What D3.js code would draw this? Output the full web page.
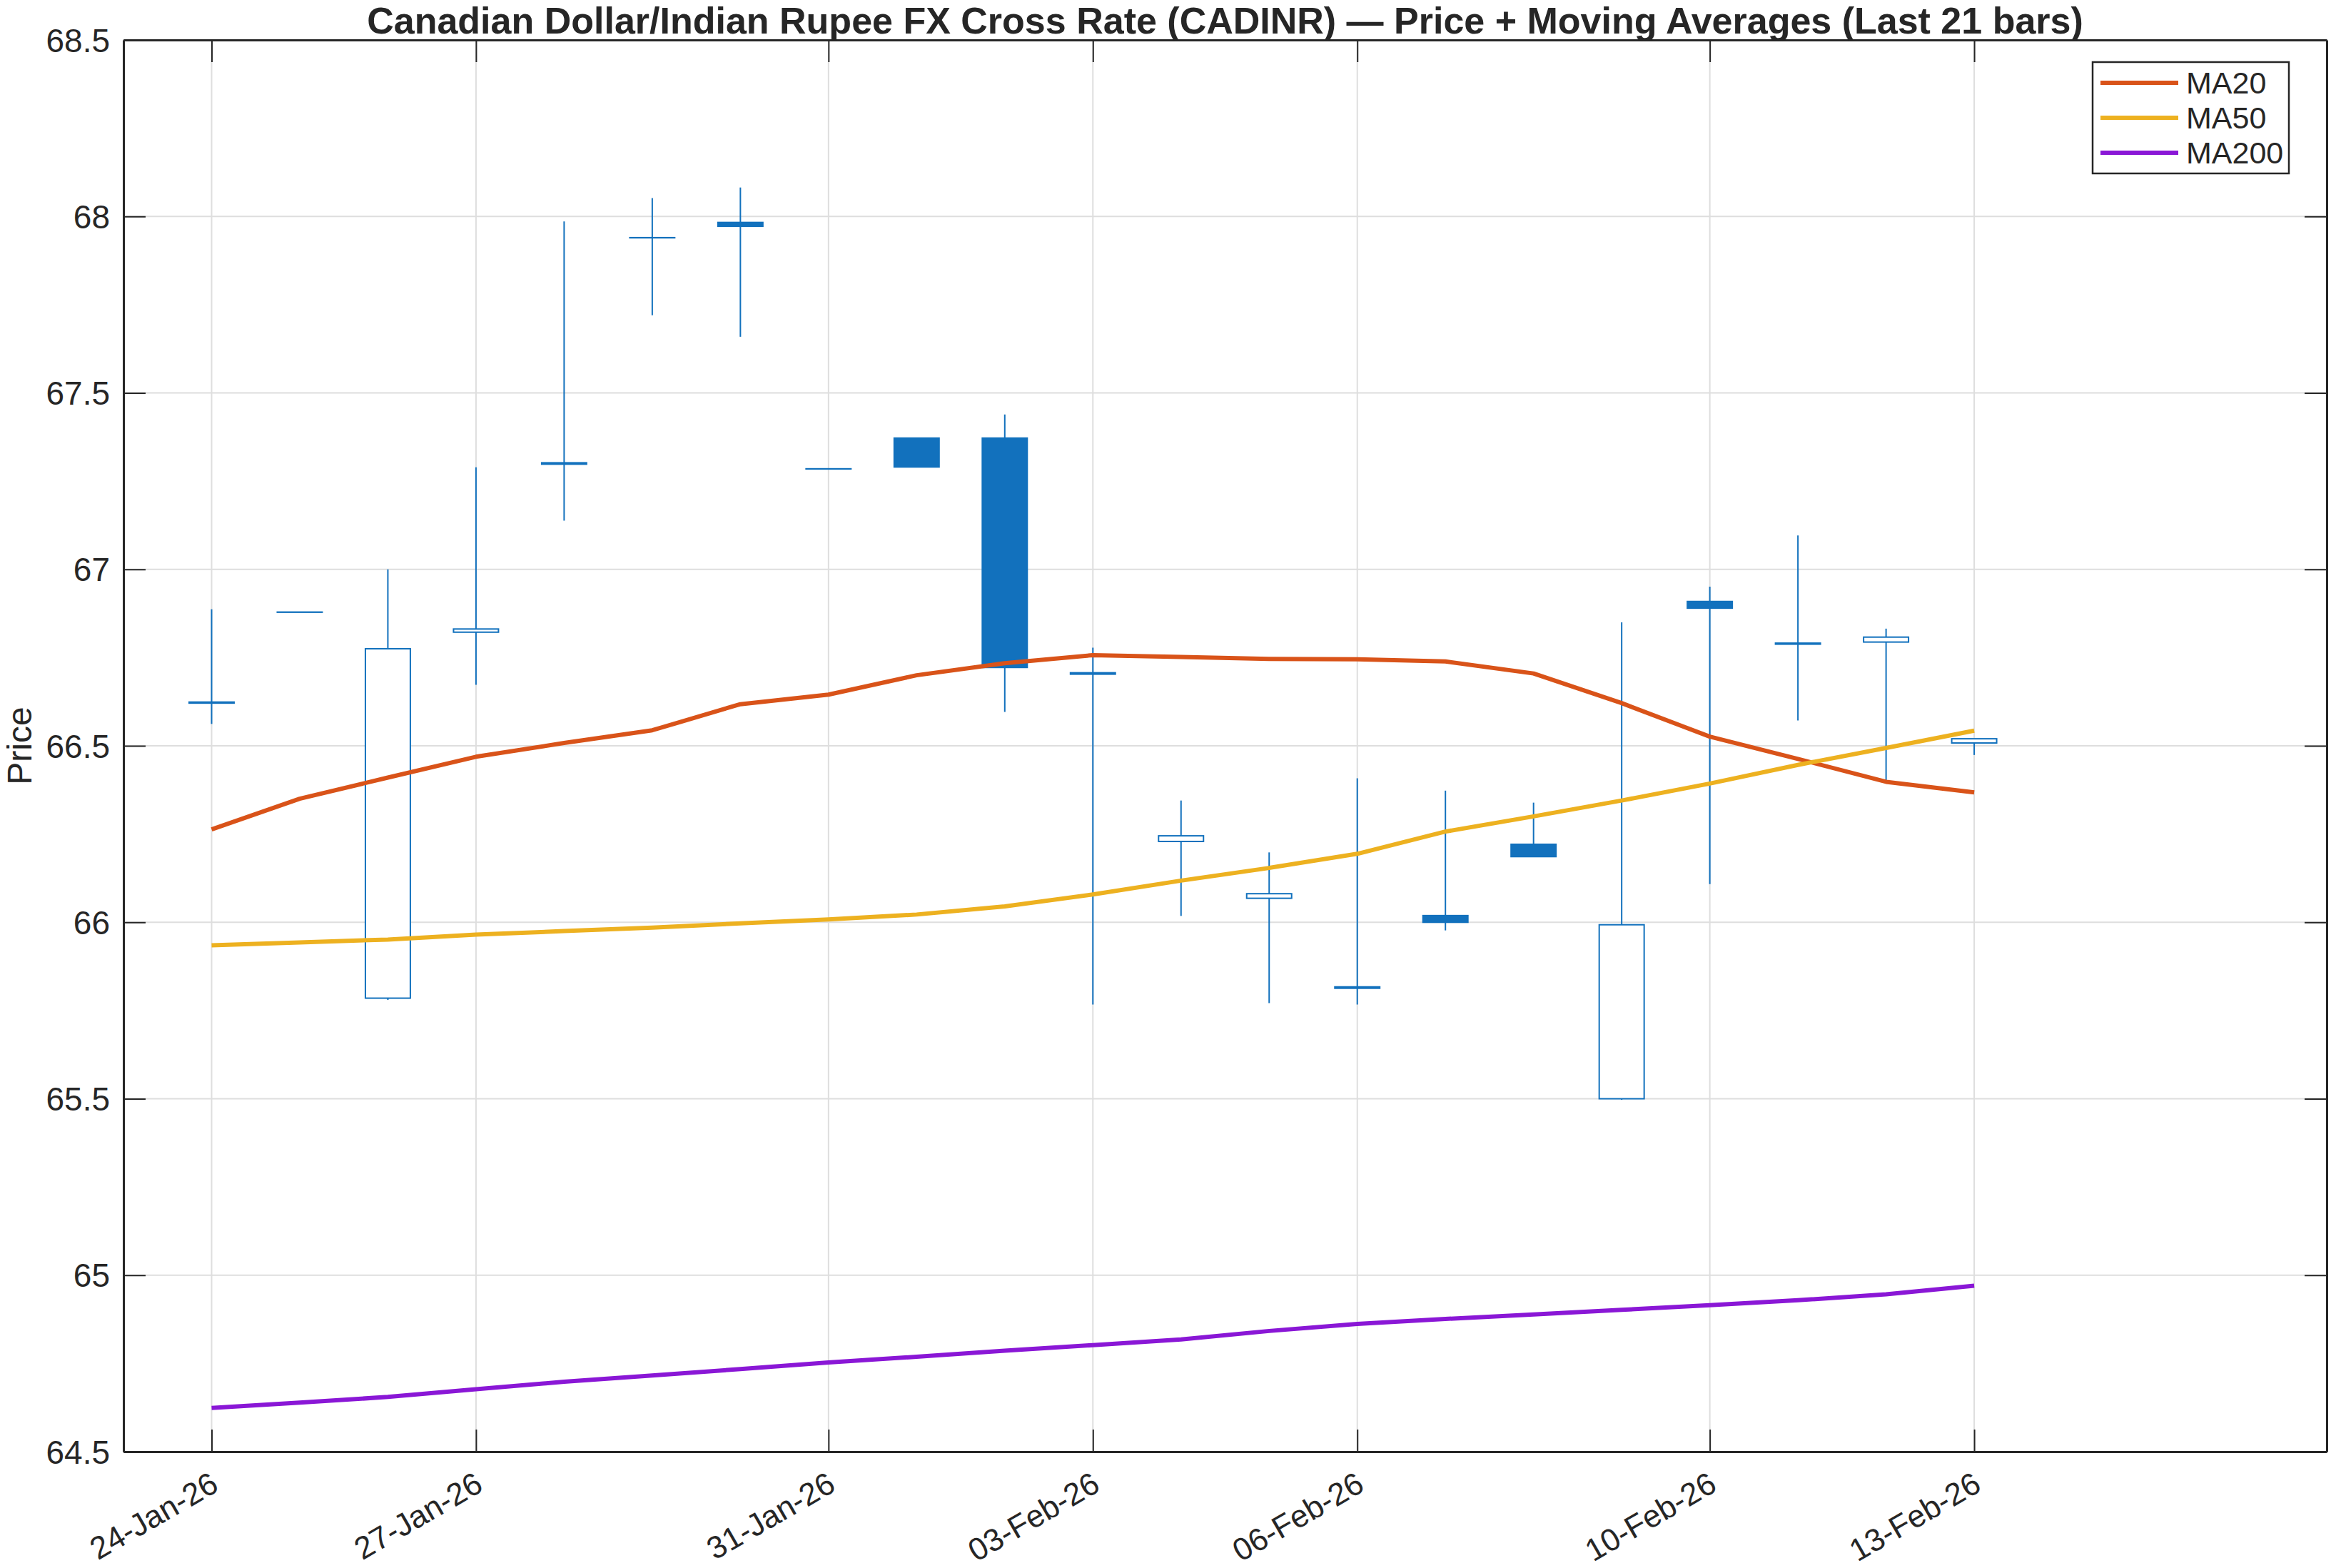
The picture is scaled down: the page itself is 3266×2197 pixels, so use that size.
<!DOCTYPE html>
<html>
<head>
<meta charset="utf-8">
<script src="https://cdn.jsdelivr.net/npm/d3@7"></script>
<style>
  body { margin: 0; background: #ffffff; }
  svg text { font-family: "Liberation Sans", Arial, Helvetica, sans-serif; fill: #262626; }
</style>
</head>
<body>
<script>

// daily bars
const dates = ['24-Jan-26', '25-Jan-26', '26-Jan-26', '27-Jan-26', '28-Jan-26', '29-Jan-26', '30-Jan-26',
               '31-Jan-26', '01-Feb-26', '02-Feb-26', '03-Feb-26', '04-Feb-26', '05-Feb-26', '06-Feb-26',
               '07-Feb-26', '08-Feb-26', '09-Feb-26', '10-Feb-26', '11-Feb-26', '12-Feb-26', '13-Feb-26'];
const open  = [66.624, 66.879, 65.785, 66.822, 67.302, 67.940, 67.983, 67.285, 67.372, 67.372, 66.707,
               66.229, 66.068, 65.817, 66.019, 66.221, 65.500, 66.909, 66.791, 66.794, 66.508];
const high  = [66.887, 66.879, 67.000, 67.289, 67.986, 68.052, 68.082, 67.285, 67.372, 67.439, 66.778,
               66.345, 66.198, 66.408, 66.373, 66.339, 66.850, 66.951, 67.096, 66.832, 66.520];
const low   = [66.562, 66.879, 65.780, 66.673, 67.138, 67.720, 67.659, 67.285, 67.290, 66.596, 65.767,
               66.018, 65.771, 65.767, 65.977, 66.186, 65.497, 66.108, 66.572, 66.402, 66.474];
const close = [66.621, 66.879, 66.775, 66.831, 67.298, 67.940, 67.972, 67.285, 67.290, 66.722, 66.703,
               66.245, 66.081, 65.813, 66.000, 66.186, 65.993, 66.890, 66.788, 66.808, 66.520];

// moving averages
const ma20  = [66.263, 66.350, 66.410, 66.469, 66.508, 66.544, 66.618, 66.645, 66.700, 66.734, 66.757,
               66.752, 66.746, 66.745, 66.739, 66.705, 66.621, 66.526, 66.463, 66.398, 66.368];
const ma50  = [65.935, 65.943, 65.951, 65.965, 65.975, 65.985, 65.997, 66.008, 66.022, 66.045, 66.079,
               66.118, 66.154, 66.194, 66.257, 66.300, 66.345, 66.393, 66.446, 66.494, 66.543];
const ma200 = [64.624, 64.639, 64.655, 64.677, 64.698, 64.716, 64.734, 64.753, 64.769, 64.786, 64.802,
               64.818, 64.842, 64.862, 64.876, 64.889, 64.902, 64.915, 64.929, 64.946, 64.970];

// axis ticks
const yTicks = [64.5, 65, 65.5, 66, 66.5, 67, 67.5, 68, 68.5];
const xTicks = ['24-Jan-26', '27-Jan-26', '31-Jan-26', '03-Feb-26', '06-Feb-26', '10-Feb-26', '13-Feb-26'];
const xRange = ['23-Jan-26', '17-Feb-26'];

const seriesNames = ['MA20', 'MA50', 'MA200'];
const seriesColors = ['#d95319', '#edb120', '#8a17d6'];

const TITLE = 'Canadian Dollar/Indian Rupee FX Cross Rate (CADINR) \u2014 Price + Moving Averages (Last 21 bars)';

// dimensions
const WIDTH = 3266;
const HEIGHT = 2197;
const MARGIN = {top: 56, right: 6, bottom: 163, left: 173};
const CANDLE = '#1271bd';
const AXIS = '#262626';

const parse = d3.timeParse('%d-%b-%y');
const fmt = d3.timeFormat('%d-%b-%y');

const bars = dates.map((d, i) => ({
    date: parse(d), o: open[i], h: high[i], l: low[i], c: close[i]
}));

const svg = d3.select('body')
              .append('svg')
              .attr('width', WIDTH)
              .attr('height', HEIGHT);

svg.append('rect').attr('width', WIDTH).attr('height', HEIGHT).attr('fill', '#ffffff');

const xScale = d3.scaleTime()
                 .domain(xRange.map(parse))
                 .range([MARGIN.left, WIDTH - MARGIN.right]);

const yScale = d3.scaleLinear()
                 .domain([64.5, 68.5])
                 .range([HEIGHT - MARGIN.bottom, MARGIN.top]);

const x0 = MARGIN.left, x1 = WIDTH - MARGIN.right;
const y0 = HEIGHT - MARGIN.bottom, y1 = MARGIN.top;

// grid
const grid = svg.append('g').attr('stroke', '#dedede').attr('stroke-width', 2);
grid.selectAll('.gy')
    .data(yTicks)
    .enter()
    .append('line')
    .attr('x1', x0).attr('x2', x1)
    .attr('y1', d => yScale(d)).attr('y2', d => yScale(d));
grid.selectAll('.gx')
    .data(xTicks.map(parse))
    .enter()
    .append('line')
    .attr('x1', d => xScale(d)).attr('x2', d => xScale(d))
    .attr('y1', y0).attr('y2', y1);

// candles: wick first, then body on top
const dayW = xScale(parse('24-Jan-26')) - xScale(parse('23-Jan-26'));
const bodyW = dayW * 0.51;

const candles = svg.append('g');
candles.selectAll('.wick')
       .data(bars)
       .enter()
       .append('line')
       .attr('x1', d => xScale(d.date)).attr('x2', d => xScale(d.date))
       .attr('y1', d => yScale(d.h)).attr('y2', d => yScale(d.l))
       .attr('stroke', CANDLE)
       .attr('stroke-width', 2);

// flat bodies (open == close) still need a visible dash
candles.selectAll('.body')
       .data(bars)
       .enter()
       .append('rect')
       .attr('x', d => xScale(d.date) - bodyW / 2)
       .attr('y', d => yScale(Math.max(d.o, d.c)))
       .attr('width', bodyW)
       .attr('height', d => Math.max(Math.abs(yScale(d.o) - yScale(d.c)), 0.3))
       .attr('fill', d => d.c >= d.o ? '#ffffff' : CANDLE)
       .attr('stroke', CANDLE)
       .attr('stroke-width', 2);

// moving average lines
const maData = [ma20, ma50, ma200];
const line = d3.line()
               .x((d, i) => xScale(bars[i].date))
               .y(d => yScale(d));

svg.append('g')
   .selectAll('path')
   .data(maData)
   .enter()
   .append('path')
   .attr('d', d => line(d))
   .attr('fill', 'none')
   .attr('stroke', (d, i) => seriesColors[i])
   .attr('stroke-width', 6)
   .attr('stroke-linejoin', 'round');

// axes with inward ticks on all four sides
const TICK = 31;
const yAxis = d3.axisLeft(yScale).tickValues(yTicks).tickSizeInner(-TICK).tickSizeOuter(0)
                .tickFormat(d3.format(''));
const yAxisR = d3.axisRight(yScale).tickValues(yTicks).tickSizeInner(-TICK).tickSizeOuter(0)
                .tickFormat('');
const xAxis = d3.axisBottom(xScale).tickValues(xTicks.map(parse)).tickSizeInner(-TICK).tickSizeOuter(0)
                .tickFormat(fmt);
const xAxisT = d3.axisTop(xScale).tickValues(xTicks.map(parse)).tickSizeInner(-TICK).tickSizeOuter(0)
                .tickFormat('');

const gy = svg.append('g').attr('transform', 'translate(' + x0 + ',0)').call(yAxis);
svg.append('g').attr('transform', 'translate(' + x1 + ',0)').call(yAxisR);
const gx = svg.append('g').attr('transform', 'translate(0,' + y0 + ')').call(xAxis);
svg.append('g').attr('transform', 'translate(0,' + y1 + ')').call(xAxisT);

svg.selectAll('.domain').attr('stroke', AXIS).attr('stroke-width', 3);
svg.selectAll('.tick line').attr('stroke', AXIS).attr('stroke-width', 2);

gy.selectAll('text')
  .attr('x', -19)
  .attr('dy', '0.35em')
  .style('font-size', '46px');

gx.selectAll('text')
  .attr('y', null)
  .attr('dy', '0.72em')
  .attr('text-anchor', 'end')
  .attr('transform', 'translate(-4,26) rotate(-30)')
  .style('font-size', '44px');

// title and axis label
svg.append('text')
   .attr('x', (x0 + x1) / 2)
   .attr('y', 47)
   .attr('text-anchor', 'middle')
   .style('font-size', '52px')
   .style('font-weight', 'bold')
   .text(TITLE);

svg.append('text')
   .attr('transform', 'translate(44,' + (y0 + y1) / 2 + ') rotate(-90)')
   .attr('text-anchor', 'middle')
   .style('font-size', '48px')
   .text('Price');

// legend
const legend = svg.append('g').attr('transform', 'translate(2932,87)');
legend.append('rect')
      .attr('width', 275).attr('height', 156)
      .attr('fill', '#ffffff')
      .attr('stroke', AXIS)
      .attr('stroke-width', 2.5);

const items = legend.selectAll('.item')
                    .data(seriesNames)
                    .enter()
                    .append('g')
                    .attr('transform', (d, i) => 'translate(0,' + (29 + i * 49) + ')');
items.append('line')
     .attr('x1', 11).attr('x2', 120)
     .attr('stroke', (d, i) => seriesColors[i])
     .attr('stroke-width', 6);
items.append('text')
     .attr('x', 131)
     .attr('dy', '0.35em')
     .style('font-size', '43px')
     .text(d => d);

</script>
</body>
</html>
